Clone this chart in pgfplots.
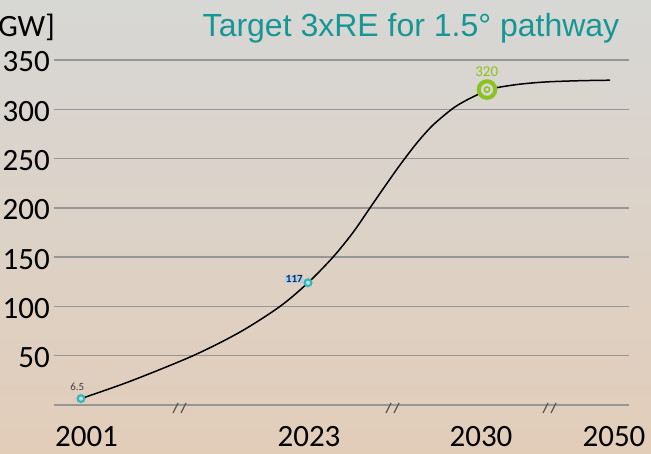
\documentclass[border=0pt]{standalone}
\usepackage{pgfplots}
\pgfplotsset{compat=1.18}
\usepackage{fontspec}
\setmainfont{Carlito}
\newfontfamily\arialf{Liberation Sans}
\definecolor{bgtop}{RGB}{215,215,213}
\definecolor{bgbot}{RGB}{226,205,185}
\definecolor{gridc}{RGB}{150,150,150}
\definecolor{titlec}{RGB}{22,150,150}
\definecolor{cyanm}{RGB}{58,180,184}
\definecolor{greenm}{RGB}{140,194,30}
\definecolor{navyl}{RGB}{30,40,70}
\definecolor{lblue}{RGB}{175,205,232}

\pgfplotstableread{
x y
81 6.5
130 24
193 50
240 74
280 100
308 124
333 150
353 175
370 200
385 222
400 243.5
417 266
433 284
453 301
467 309.5
480 316
487 319.5
497 322
520 325.5
547 327.8
580 329
610 329.5
}\curve

\begin{document}
\begin{tikzpicture}
\shade[top color=bgtop, bottom color=bgbot] (-54pt,-49pt) rectangle (597pt,405pt);
\begin{axis}[
  at={(0pt,0pt)}, anchor=south west,
  scale only axis, width=575pt, height=345pt,
  xmin=54, xmax=629, ymin=0, ymax=350,
  axis line style={draw=none},
  clip=false,
  xtick={86.5,309,481,614}, xticklabels={2001,2023,2030,2050},
  ytick={0,50,...,350}, yticklabels={,50,100,150,200,250,300,350},
  major tick length=0pt,
  ymajorgrids, grid style={gridc, line width=1.5pt},
  tick label style={font=\fontsize{31}{31}\selectfont, text=black},
  yticklabel style={anchor=east, inner sep=0pt, xshift=-4pt, yshift=-2pt},
  xticklabel style={anchor=base, inner sep=0pt, yshift=-42pt},
]
\addplot[black, line width=1.5pt, smooth] table[x=x,y=y] {\curve};
\addplot[only marks, mark=*, mark size=3.4pt, mark options={draw=cyanm, fill=white!60!cyanm, line width=2.2pt}] coordinates {(81,6.5) (308,124)};
\addplot[only marks, mark=*, mark size=8.3pt, mark options={draw=greenm, fill=bgtop, line width=4pt}] coordinates {(487,320)};
\addplot[only marks, mark=o, mark size=2.6pt, mark options={draw=greenm, line width=1.5pt}] coordinates {(487,320)};
\end{axis}
% annotations (pt = px offsets)
\node[anchor=base, font=\arialf\fontsize{32}{32}\selectfont, text=titlec] at (357pt,368.3pt) {Target 3xRE for 1.5° pathway};
\node[anchor=base east, inner sep=0pt, font=\fontsize{31}{31}\selectfont] at (1pt,368pt) {GW]};
\node[font=\fontsize{11}{11}\selectfont, text=black!75] at (23.3pt,18.3pt) {6.5};
\node[font=\bfseries\fontsize{11}{11}\selectfont, text=navyl, fill=lblue, inner sep=0.5pt] at (240.3pt,125.7pt) {117};
\node[font=\fontsize{15}{15}\selectfont, text=greenm] at (432.7pt,333.3pt) {320};
\begin{scope}[x=1pt, y=1pt]
\foreach \bx in {127,340,497}{
  \draw[black!65, line width=1.3pt] (\bx-8,-8) -- (\bx-3,2);
  \draw[black!65, line width=1.3pt] (\bx,-8) -- (\bx+5,2);
}
\end{scope}
\pgfresetboundingbox
\useasboundingbox (-54pt,-49pt) rectangle (597pt,405pt);
\end{tikzpicture}
\end{document}
